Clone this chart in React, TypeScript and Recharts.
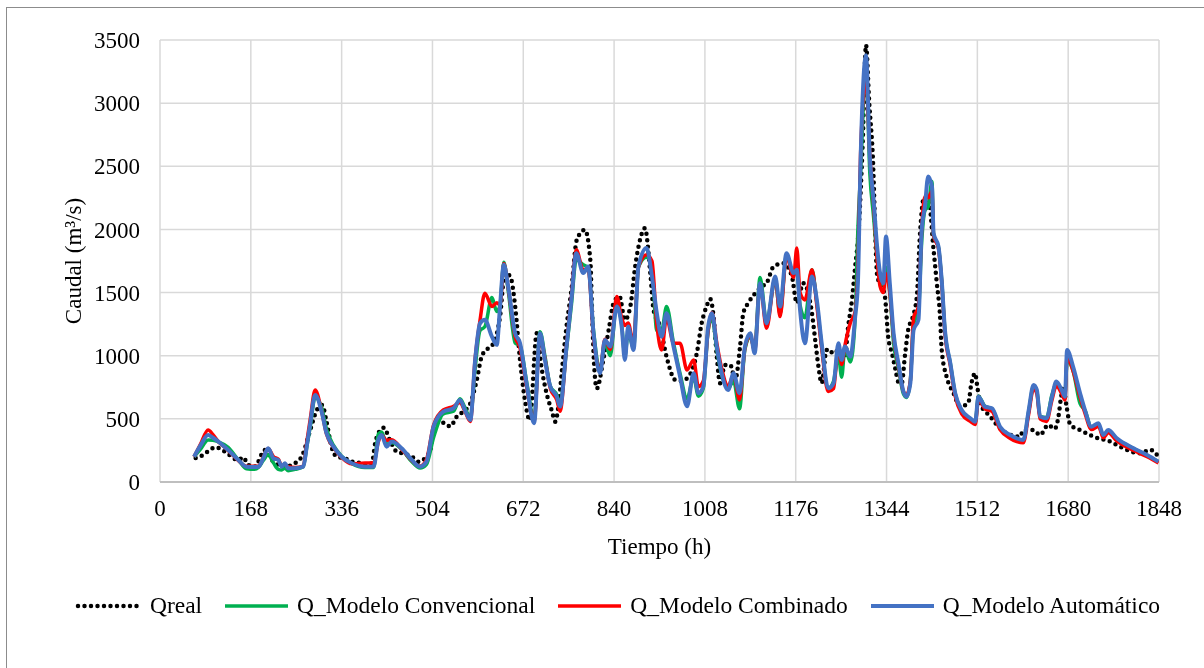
import { LineChart, Line, XAxis, YAxis, CartesianGrid, Legend } from "recharts";

const FONT = "'Liberation Serif', 'Times New Roman', serif";

// Qreal (observed flow), irregular sampling in hours
const realTime = [
  66, 74, 88, 103, 120, 145, 154, 163, 175, 194, 207, 231, 247, 262, 278, 290, 300, 308, 318, 327,
  342, 355, 370, 382, 392, 398, 404, 414, 425, 438, 450, 466, 478, 490, 500, 506, 512, 525, 537, 549,
  562, 574, 586, 595, 607, 617, 629, 638, 648, 657, 666, 675, 684, 697, 706, 715, 725, 731, 737, 743,
  752, 761, 771, 786, 796, 799, 802, 808, 820, 830, 839, 850, 860, 870, 879, 888, 897, 907, 913, 925,
  937, 953, 965, 980, 993, 1002, 1011, 1018, 1024, 1030, 1036, 1045, 1055, 1064, 1073, 1079, 1088, 1101, 1113, 1122,
  1135, 1153, 1169, 1178, 1190, 1206, 1212, 1218, 1224, 1233, 1239, 1249, 1258, 1267, 1273, 1280, 1286, 1292, 1300, 1306,
  1312, 1318, 1327, 1335, 1341, 1347, 1354, 1360, 1366, 1372, 1378, 1384, 1392, 1400, 1406, 1412, 1421, 1431, 1437, 1443,
  1446, 1455, 1468, 1480, 1495, 1501, 1508, 1511, 1517, 1536, 1551, 1566, 1591, 1597, 1616, 1628, 1643, 1655, 1662, 1667,
  1671, 1677, 1684, 1702, 1727, 1758, 1776, 1813, 1832, 1847,
];
const realQ = [
  190, 200, 240, 275, 240, 174, 196, 135, 121, 253, 174, 121, 143, 200, 412, 570, 610, 478, 267, 200,
  188, 161, 150, 135, 150, 306, 386, 430, 333, 240, 226, 200, 161, 188, 253, 400, 465, 470, 440, 518,
  560, 623, 808, 993, 1059, 1099, 1310, 1654, 1627, 1389, 967, 650, 490, 1178, 900, 703, 560, 478, 600, 861,
  1231, 1521, 1918, 1997, 1759, 1389, 1020, 740, 967, 1204, 1416, 1469, 1284, 1389, 1706, 1918, 2010, 1654, 1363, 1231,
  993, 808, 800, 850, 1020, 1257, 1389, 1448, 1310, 993, 782, 927, 927, 808, 1072, 1337, 1416, 1495, 1548, 1574,
  1706, 1733, 1627, 1416, 1574, 1337, 1125, 914, 782, 1046, 1020, 1046, 993, 993, 1231, 1442, 1706, 1970, 2700, 3460,
  3000, 2630, 1625, 1550, 1468, 1151, 1020, 900, 790, 780, 1000, 1204, 1300, 1468, 1970, 2234, 2260, 1838, 1574, 1310,
  1046, 835, 703, 597, 623, 782, 861, 782, 623, 518, 438, 386, 359, 412, 412, 372, 452, 420, 518, 676,
  755, 597, 452, 412, 359, 320, 280, 227, 254, 200,
];

// model outputs share one time axis
const modelTime = [
  63, 75, 89, 98, 108, 126, 145, 160, 175, 182, 191, 200, 210, 219, 225, 231, 237, 250, 265, 272,
  278, 287, 299, 308, 321, 336, 355, 379, 395, 404, 410, 419, 429, 447, 466, 481, 493, 506, 524, 543,
  555, 564, 574, 583, 592, 601, 614, 623, 629, 636, 644, 657, 666, 678, 692, 703, 712, 722, 734, 740,
  752, 761, 770, 783, 792, 802, 814, 823, 833, 845, 854, 860, 866, 876, 885, 900, 910, 919, 928, 937,
  950, 962, 975, 987, 996, 1005, 1014, 1021, 1030, 1039, 1051, 1061, 1072, 1082, 1092, 1100, 1110, 1122, 1138, 1147,
  1159, 1172, 1178, 1184, 1193, 1206, 1215, 1224, 1236, 1246, 1255, 1261, 1267, 1277, 1286, 1291, 1296, 1306, 1313, 1320,
  1326, 1332, 1338, 1343, 1350, 1357, 1366, 1375, 1381, 1388, 1394, 1403, 1409, 1415, 1421, 1428, 1431, 1440, 1446, 1452,
  1462, 1471, 1483, 1499, 1508, 1514, 1526, 1539, 1554, 1573, 1585, 1597, 1607, 1616, 1622, 1628, 1640, 1650, 1658, 1668,
  1674, 1678, 1689, 1702, 1711, 1723, 1736, 1745, 1754, 1770, 1801, 1826, 1847,
];
const qAuto = [
  200, 290, 372, 350, 320, 253, 174, 121, 118, 121, 188, 267, 188, 174, 121, 148, 108, 108, 121, 300,
  465, 689, 557, 386, 280, 200, 148, 121, 121, 333, 372, 280, 320, 267, 174, 121, 161, 438, 557, 584,
  650, 570, 491, 967, 1257, 1284, 1151, 1086, 1389, 1720, 1548, 1178, 1099, 782, 465, 1178, 967, 755, 676, 597,
  1072, 1442, 1812, 1654, 1706, 1178, 861, 1125, 1072, 1389, 1231, 967, 1231, 1046, 1706, 1852, 1627, 1337, 1151, 1337,
  1072, 835, 600, 861, 703, 755, 1231, 1337, 1072, 861, 729, 861, 703, 1072, 1178, 1020, 1574, 1257, 1627, 1389,
  1812, 1654, 1680, 1363, 1099, 1627, 1442, 1099, 742, 782, 1099, 967, 1072, 993, 1310, 1574, 2550, 3380, 2578, 2234,
  1891, 1654, 1574, 1944, 1574, 1178, 940, 720, 676, 782, 1204, 1284, 1997, 2181, 2419, 2340, 1970, 1865, 1600, 1204,
  940, 703, 570, 505, 478, 676, 597, 584, 438, 372, 346, 333, 570, 769, 729, 518, 505, 676, 795, 729,
  676, 1046, 914, 703, 570, 438, 465, 372, 412, 346, 267, 214, 161,
];
const qConv = [
  200, 260, 333, 330, 318, 275, 175, 105, 100, 115, 170, 215, 150, 100, 95, 110, 90, 100, 120, 290,
  440, 670, 590, 420, 290, 205, 145, 115, 115, 380, 395, 300, 310, 260, 160, 110, 140, 350, 540, 560,
  660, 590, 510, 900, 1200, 1230, 1460, 1350, 1400, 1740, 1520, 1100, 1080, 800, 500, 1190, 1000, 760, 690, 620,
  1050, 1400, 1760, 1720, 1700, 1200, 900, 1100, 1000, 1420, 1250, 1000, 1180, 1060, 1700, 1780, 1700, 1200, 1200, 1390,
  1100, 860, 660, 830, 680, 740, 1200, 1300, 1050, 850, 740, 800, 580, 1050, 1150, 1050, 1620, 1270, 1600, 1330,
  1800, 1640, 1680, 1400, 1300, 1680, 1420, 1080, 740, 800, 1000, 830, 1060, 950, 1300, 2000, 2450, 3300, 2450, 2100,
  1800, 1600, 1560, 1700, 1500, 1100, 900, 700, 670, 800, 1250, 1350, 1900, 2150, 2180, 2380, 1950, 1860, 1600, 1200,
  940, 700, 560, 500, 470, 680, 600, 580, 430, 360, 340, 330, 560, 760, 720, 520, 510, 690, 780, 720,
  690, 960, 880, 620, 570, 430, 450, 370, 400, 340, 265, 210, 160,
];
const qComb = [
  200, 300, 412, 375, 320, 250, 170, 125, 125, 125, 195, 265, 200, 180, 130, 140, 120, 115, 125, 330,
  500, 729, 560, 380, 275, 195, 145, 150, 150, 320, 370, 330, 335, 260, 170, 125, 180, 450, 570, 600,
  630, 560, 480, 980, 1280, 1495, 1389, 1420, 1400, 1730, 1540, 1150, 1060, 760, 480, 1150, 980, 740, 650, 560,
  1080, 1460, 1839, 1680, 1690, 1150, 880, 1130, 1050, 1468, 1300, 1240, 1260, 1100, 1700, 1800, 1750, 1250, 1046, 1300,
  1100, 1099, 887, 967, 755, 800, 1200, 1340, 1100, 900, 760, 850, 650, 1060, 1160, 1040, 1560, 1218, 1620, 1310,
  1790, 1620, 1852, 1500, 1442, 1680, 1400, 1060, 716, 740, 1080, 930, 1080, 1260, 1350, 1700, 2600, 3200, 2600, 2200,
  1800, 1550, 1500, 1650, 1500, 1150, 920, 720, 690, 800, 1300, 1389, 2000, 2260, 2250, 2300, 1950, 1850, 1580, 1180,
  920, 680, 540, 480, 455, 650, 580, 560, 415, 345, 320, 310, 540, 740, 700, 500, 480, 650, 760, 700,
  650, 990, 880, 670, 545, 415, 440, 350, 390, 325, 250, 200, 150,
];

const xTicks = [0, 168, 336, 504, 672, 840, 1008, 1176, 1344, 1512, 1680, 1848];
const yTicks = [0, 500, 1000, 1500, 2000, 2500, 3000, 3500];
const legendOrder = ["Qreal", "Q_Modelo Convencional", "Q_Modelo Combinado", "Q_Modelo Automático"];

const realData = realTime.map((t, i) => ({ t, q: realQ[i] }));
const modelData = modelTime.map((t, i) => ({ t, conv: qConv[i], comb: qComb[i], auto: qAuto[i] }));

const seriesStyle: Record<string, { color: string; width: number; dash?: string }> = {
  Qreal: { color: "#000000", width: 4.5, dash: "0 6.5" },
  "Q_Modelo Convencional": { color: "#00B050", width: 3.5 },
  "Q_Modelo Combinado": { color: "#FF0000", width: 3.5 },
  "Q_Modelo Automático": { color: "#4472C4", width: 4 },
};

function LegendContent(props: any) {
  const payload = [...(props.payload || [])].sort(
    (a: any, b: any) => legendOrder.indexOf(a.value) - legendOrder.indexOf(b.value)
  );
  return (
    <div
      style={{
        display: "flex",
        justifyContent: "center",
        alignItems: "center",
        gap: 19,
        paddingLeft: 22,
        fontFamily: FONT,
        fontSize: 23.5,
        color: "#000",
      }}
    >
      {payload.map((p: any) => {
        const s = seriesStyle[p.value];
        return (
          <div key={p.value} style={{ display: "flex", alignItems: "center" }}>
            <svg width={71} height={12}>
              <line
                x1={4}
                x2={67}
                y1={6}
                y2={6}
                stroke={s.color}
                strokeWidth={s.width}
                strokeDasharray={s.dash}
                strokeLinecap={s.dash ? "round" : "butt"}
              />
            </svg>
            <span style={{ marginLeft: 5, whiteSpace: "nowrap" }}>{p.value}</span>
          </div>
        );
      })}
    </div>
  );
}

export default function App() {
  return (
    <div style={{ position: "relative", width: 1196, height: 660 }}>
      <div
        style={{
          position: "fixed",
          left: 6,
          top: 7,
          right: 0,
          bottom: 0,
          borderLeft: "1px solid #8c8c8c",
          borderTop: "1px solid #8c8c8c",
          pointerEvents: "none",
        }}
      />
      <LineChart width={1196} height={660} margin={{ top: 32, right: 45, left: 0, bottom: 86 }}>
        <CartesianGrid stroke="#d9d9d9" strokeWidth={1.5} />
        <XAxis
          type="number"
          dataKey="t"
          domain={[0, 1848]}
          ticks={xTicks}
          allowDataOverflow
          height={100}
          tickLine={false}
          tickSize={0}
          tickMargin={18}
          axisLine={{ stroke: "#bfbfbf", strokeWidth: 2 }}
          tick={{ fill: "#000", fontSize: 23, fontFamily: FONT }}
          label={{
            content: (p: any) => {
              const vb = p.viewBox;
              return (
                <text
                  x={vb.x + vb.width / 2}
                  y={vb.y + 64}
                  dy="0.35em"
                  textAnchor="middle"
                  fill="#000"
                  style={{ fontFamily: FONT, fontSize: 23 }}
                >
                  Tiempo (h)
                </text>
              );
            },
          }}
        />
        <YAxis
          type="number"
          domain={[0, 3500]}
          ticks={yTicks}
          width={152}
          tickLine={false}
          tickSize={0}
          tickMargin={20}
          axisLine={false}
          tick={{ fill: "#000", fontSize: 23, fontFamily: FONT }}
          label={{
            content: (p: any) => {
              const vb = p.viewBox;
              const cx = vb.x + 65;
              const cy = vb.y + vb.height / 2;
              return (
                <text
                  x={cx}
                  y={cy}
                  dy="0.35em"
                  textAnchor="middle"
                  transform={`rotate(-90, ${cx}, ${cy})`}
                  fill="#000"
                  style={{ fontFamily: FONT, fontSize: 23 }}
                >
                  Caudal (m³/s)
                </text>
              );
            },
          }}
        />
        <Legend
          verticalAlign="middle"
          align="center"
          wrapperStyle={{ left: 0, top: 584, width: 1196 }}
          content={<LegendContent />}
        />
        <Line
          data={realData}
          dataKey="q"
          name="Qreal"
          type="monotone"
          stroke="#000000"
          strokeWidth={4.5}
          strokeDasharray="0 6.5"
          strokeLinecap="round"
          dot={false}
          isAnimationActive={false}
        />
        <Line
          data={modelData}
          dataKey="conv"
          name="Q_Modelo Convencional"
          type="monotone"
          stroke="#00B050"
          strokeWidth={3.5}
          dot={false}
          isAnimationActive={false}
        />
        <Line
          data={modelData}
          dataKey="comb"
          name="Q_Modelo Combinado"
          type="monotone"
          stroke="#FF0000"
          strokeWidth={3.5}
          dot={false}
          isAnimationActive={false}
        />
        <Line
          data={modelData}
          dataKey="auto"
          name="Q_Modelo Automático"
          type="monotone"
          stroke="#4472C4"
          strokeWidth={4}
          dot={false}
          isAnimationActive={false}
        />
      </LineChart>
    </div>
  );
}
